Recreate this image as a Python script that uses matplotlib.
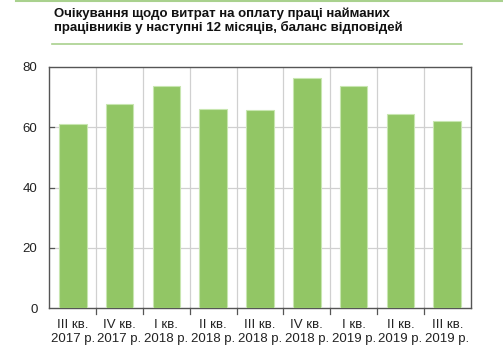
import matplotlib
matplotlib.use('Agg')
import matplotlib.pyplot as plt
from matplotlib.lines import Line2D
import numpy as np

plt.rcParams['font.family'] = ['Liberation Sans', 'DejaVu Sans']

# data
quarters = ['III кв.\n2017 р.', 'IV кв.\n2017 р.', 'I кв.\n2018 р.', 'II кв.\n2018 р.',
            'III кв.\n2018 р.', 'IV кв.\n2018 р.', 'I кв.\n2019 р.', 'II кв.\n2019 р.',
            'III кв.\n2019 р.']
balance = [61.2, 67.7, 73.7, 66.1, 65.6, 76.2, 73.6, 64.5, 62.0]
title = 'Очікування щодо витрат на оплату праці найманих\nпрацівників у наступні 12 місяців, баланс відповідей'

fig = plt.figure(figsize=(5.03, 3.61), dpi=100)
ax = fig.add_axes([49.3 / 503, 1 - 308.3 / 361, 421.4 / 503, 241.3 / 361])

x = np.arange(len(balance))
ax.bar(x, balance, width=0.59, color='#92c665', edgecolor='#c8e6b0', linewidth=0.8, zorder=3)

ax.set_xlim(-0.5, len(balance) - 0.5)
ax.set_ylim(0, 80)
ax.set_yticks([0, 20, 40, 60, 80])
ax.tick_params(axis='y', length=0, labelsize=9.5, pad=8.5, colors='#222222')
ax.set_xticks(x)
ax.set_xticklabels(quarters, fontsize=9.5, color='#222222', linespacing=1.2)
ax.tick_params(axis='x', length=0, pad=8)
# grid at category boundaries
bounds = np.arange(len(balance) - 1) + 0.5
for b in bounds:
    ax.axvline(b, color='#d0d0d0', lw=0.9, zorder=1)
    ax.plot([b, b], [0, -0.022], transform=ax.get_xaxis_transform(), color='#555555',
            lw=0.9, clip_on=False)
for y in [20, 40, 60]:
    ax.axhline(y, color='#d0d0d0', lw=0.9, zorder=1)
    ax.plot([0, 0.01], [y, y], transform=ax.get_yaxis_transform(), color='#555555', lw=0.9, zorder=2)
for s in ax.spines.values():
    s.set_color('#555555')
    s.set_linewidth(1.0)

fig.text(54 / 503, 1 - 7 / 361, title, fontsize=9.5, fontweight='bold', va='top', ha='left',
         color='#111111', linespacing=1.15)
fig.add_artist(Line2D([16 / 503, 1], [1 - 0.8 / 361] * 2, color='#a9d18e', lw=1.5))
fig.add_artist(Line2D([52 / 503, 462 / 503], [1 - 44 / 361] * 2, color='#a9d18e', lw=1.2))

fig.savefig('out.png', dpi=100)
